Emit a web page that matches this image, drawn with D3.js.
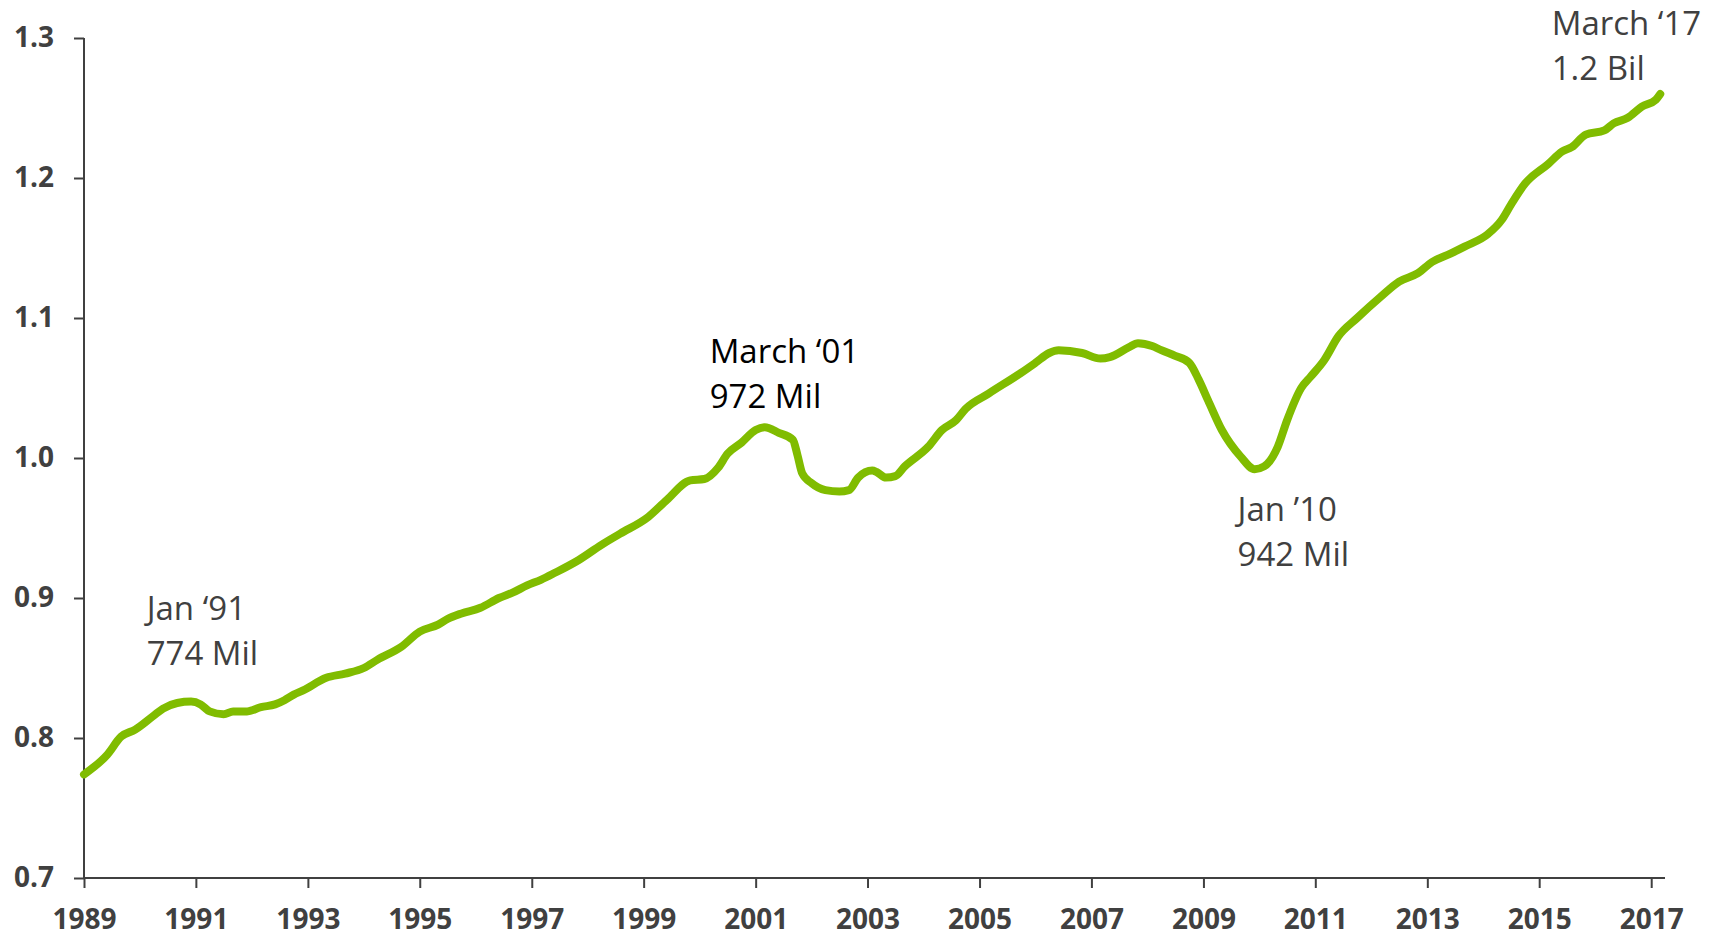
<!DOCTYPE html>
<html>
<head>
<meta charset="utf-8">
<script src="https://cdn.jsdelivr.net/npm/d3@7"></script>
<style>
  html, body { margin: 0; padding: 0; background: #fff; }
  svg { display: block; }
</style>
</head>
<body>
<svg id="chart" width="1725" height="936"></svg>
<script>
// Months (YYYY-MM) and values (billions)
const months = [
  "1989-01","1989-06","1989-09","1989-12","1990-04","1990-06","1990-09","1990-12",
  "1991-02","1991-04","1991-07","1991-09","1991-12","1992-03","1992-06","1992-08",
  "1992-10","1992-12","1993-05","1993-09","1994-01","1994-04","1994-09","1995-01",
  "1995-05","1995-07","1995-10","1996-02","1996-06","1996-09","1996-12","1997-03",
  "1997-06","1997-11","1998-04","1998-08","1999-02","1999-06","1999-11","2000-02",
  "2000-05","2000-07","2000-10","2001-01","2001-03","2001-06","2001-09","2001-10",
  "2001-11","2002-01","2002-04","2002-07","2002-09","2002-11","2003-02","2003-03",
  "2003-05","2003-07","2003-09","2004-02","2004-05","2004-08","2004-10","2005-03",
  "2005-10","2006-01","2006-04","2006-06","2006-11","2007-03","2007-05","2007-09",
  "2007-11","2008-02","2008-04","2008-07","2008-10","2008-12","2009-02","2009-05",
  "2009-09","2009-12","2010-02","2010-05","2010-07","2010-10","2010-12","2011-03",
  "2011-06","2011-10","2012-03","2012-07","2012-11","2013-02","2013-06","2013-09",
  "2014-02","2014-05","2014-07","2014-10","2015-03","2015-06","2015-08","2015-11",
  "2016-03","2016-05","2016-08","2016-11","2017-02","2017-03"
];
const values = [
  0.774,0.788,0.801,0.806,0.816,0.821,0.825,0.826,
  0.824,0.819,0.817,0.819,0.819,0.822,0.824,0.827,
  0.831,0.834,0.843,0.846,0.850,0.856,0.865,0.876,
  0.881,0.885,0.889,0.893,0.900,0.904,0.909,0.913,
  0.918,0.927,0.938,0.946,0.958,0.970,0.984,0.985,
  0.993,1.003,1.011,1.020,1.022,1.018,1.013,1.002,
  0.989,0.982,0.977,0.976,0.977,0.986,0.991,0.990,
  0.986,0.987,0.994,1.008,1.020,1.027,1.035,1.046,
  1.061,1.068,1.075,1.077,1.075,1.071,1.072,1.079,
  1.082,1.080,1.077,1.073,1.068,1.056,1.041,1.020,
  1.001,0.992,0.994,1.008,1.027,1.050,1.058,1.070,
  1.087,1.100,1.115,1.126,1.132,1.140,1.146,1.151,
  1.160,1.170,1.181,1.196,1.210,1.219,1.222,1.231,
  1.234,1.239,1.243,1.251,1.256,1.260
];
const yTicks = [0.7, 0.8, 0.9, 1.0, 1.1, 1.2, 1.3];
const xTickYears = [1989,1991,1993,1995,1997,1999,2001,2003,2005,2007,2009,2011,2013,2015,2017];
const annoLines1 = ["Jan \u201891", "March \u201801", "Jan \u201910", "March \u201817"];
const annoLines2 = ["774 Mil", "972 Mil", "942 Mil", "1.2 Bil"];
const annoDates = ["1990-02-14", "2000-03-07", "2009-08-12", "2015-03-24"];
const annoValues = [0.8843, 1.0679, 0.955, 1.3021];
const annoColors = ["#404040", "#000000", "#404040", "#404040"];

const parse = d3.timeParse("%Y-%m");
const parseDay = d3.timeParse("%Y-%m-%d");
const data = months.map((m, i) => ({ date: parse(m), value: values[i] }));

const svg = d3.select("#chart");
const x = d3.scaleTime()
  .domain([new Date(1989, 0, 1), new Date(2017, 3, 1)])
  .range([84, 1665]);
const y = d3.scaleLinear().domain([0.7, 1.3]).range([878, 38]);

const font = "'Open Sans', 'DejaVu Sans', sans-serif";
const axisColor = "#404040";

// Y axis
const yAxis = svg.append("g")
  .attr("transform", "translate(84,0)")
  .call(d3.axisLeft(y).tickValues(yTicks).tickFormat(d3.format(".1f")).tickSize(10).tickPadding(20));
// X axis
const xAxis = svg.append("g")
  .attr("transform", "translate(0,878)")
  .call(d3.axisBottom(x).tickValues(xTickYears.map(yr => new Date(yr, 0, 1)))
    .tickFormat(d3.timeFormat("%Y")).tickSize(10).tickPadding(21));

[yAxis, xAxis].forEach(g => {
  g.select(".domain").attr("stroke", axisColor).attr("stroke-width", 2);
  g.selectAll(".tick line").attr("stroke", axisColor).attr("stroke-width", 2);
  g.selectAll(".tick text")
    .attr("fill", axisColor)
    .style("font-family", font)
    .style("font-weight", "700")
    .style("font-size", "28px");
});
xAxis.select(".domain").attr("d", "M84,0H1665");
yAxis.select(".domain").attr("d", "M0,878V38");

// Line
const line = d3.line()
  .x(d => x(d.date))
  .y(d => y(d.value))
  .curve(d3.curveMonotoneX);

svg.append("path")
  .datum(data)
  .attr("fill", "none")
  .attr("stroke", "#80BC00")
  .attr("stroke-width", 8)
  .attr("stroke-linejoin", "round")
  .attr("stroke-linecap", "round")
  .attr("d", line);

// Annotations
annoLines1.forEach((t, i) => {
  const ax = x(parseDay(annoDates[i]));
  const ay = y(annoValues[i]);
  const txt = svg.append("text")
    .attr("x", ax).attr("y", ay)
    .attr("fill", annoColors[i])
    .style("font-family", font)
    .style("font-size", "33px");
  txt.append("tspan").attr("x", ax).text(t);
  txt.append("tspan").attr("x", ax).attr("dy", 45).text(annoLines2[i]);
});
</script>
</body>
</html>
